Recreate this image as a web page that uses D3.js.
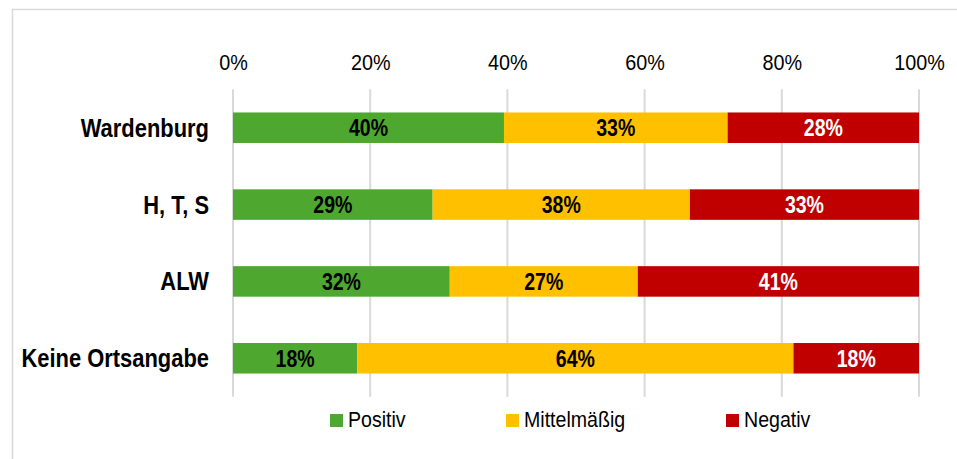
<!DOCTYPE html>
<html>
<head>
<meta charset="utf-8">
<script src="https://cdn.jsdelivr.net/npm/d3@7"></script>
<style>
  html, body { margin: 0; padding: 0; background: #fff; }
  svg { display: block; }
  .narrow { font-family: "Liberation Sans", Arial, sans-serif; }
</style>
</head>
<body>
<script>
const categories = ["Wardenburg", "H, T, S", "ALW", "Keine Ortsangabe"];
const seriesNames = ["Positiv", "Mittelmäßig", "Negativ"];
const positiv = [39.5, 29.1, 31.6, 18.1];
const mittelmaessig = [32.6, 37.5, 27.4, 63.6];
const negativ = [27.9, 33.4, 41.0, 18.3];
const tickValues = [0, 20, 40, 60, 80, 100];
const colors = ["#4EA72E", "#FFC000", "#C00000"];
const labelColors = ["#000", "#000", "#fff"];

const W = 957, H = 459;
const svg = d3.select("body").append("svg").attr("width", W).attr("height", H);

// outer chart frame
svg.append("rect")
  .attr("x", 12.5).attr("y", 9.5)
  .attr("width", W).attr("height", H)
  .attr("fill", "none").attr("stroke", "#d9d9d9").attr("stroke-width", 1.5);

const x = d3.scaleLinear().domain([0, 100]).range([233, 919]);
const y = d3.scaleBand().domain(categories).range([89.3, 396.7])
  .paddingInner(0.603).paddingOuter(0.3015);

// gridlines
svg.append("g").selectAll("line").data(tickValues).join("line")
  .attr("x1", d => x(d)).attr("x2", d => x(d))
  .attr("y1", y.range()[0]).attr("y2", y.range()[1])
  .attr("stroke", "#d9d9d9").attr("stroke-width", 2);

// top tick labels
const xAxis = d3.axisTop(x).tickValues(tickValues).tickFormat(d => d + "%").tickSize(0).tickPadding(0);
const gx = svg.append("g").attr("transform", "translate(0,70)").call(xAxis);
gx.select(".domain").remove();
gx.selectAll("text")
  .attr("class", "narrow")
  .attr("font-size", 22).attr("fill", "#000")
  .attr("y", 0).attr("dy", 0)
  .attr("transform", "scale(0.9,1)");

// category labels
const yAxis = d3.axisLeft(y).tickSize(0).tickPadding(0);
const gy = svg.append("g").attr("transform", "translate(209,0)").call(yAxis);
gy.select(".domain").remove();
gy.selectAll("text")
  .attr("class", "narrow")
  .attr("x", 0)
  .attr("font-size", 25.5).attr("font-weight", "bold").attr("fill", "#000")
  .attr("dy", "0.35em")
  .attr("transform", "scale(0.86,1)");

// stacked data
const table = categories.map((c, i) => ({
  cat: c, "Positiv": positiv[i], "Mittelmäßig": mittelmaessig[i], "Negativ": negativ[i]
}));
const stacked = d3.stack().keys(seriesNames)(table);

const layers = svg.append("g").selectAll("g").data(stacked).join("g")
  .attr("fill", (d, i) => colors[i]);

layers.selectAll("rect").data(d => d).join("rect")
  .attr("x", d => x(d[0]))
  .attr("y", d => y(d.data.cat))
  .attr("width", d => x(d[1]) - x(d[0]))
  .attr("height", y.bandwidth());

stacked.forEach((layer, si) => {
  svg.append("g").selectAll("text").data(layer).join("text")
    .attr("class", "narrow")
    .attr("transform", d => `translate(${(x(d[0]) + x(d[1])) / 2},${y(d.data.cat) + y.bandwidth() / 2}) scale(0.83,1)`)
    .attr("dy", "0.36em")
    .attr("text-anchor", "middle")
    .attr("font-size", 23.5).attr("font-weight", "bold")
    .attr("fill", labelColors[si])
    .text(d => Math.round(d.data[layer.key]) + "%");
});

// legend
const legendX = [330, 506, 726];
const lg = svg.append("g").selectAll("g").data(seriesNames).join("g")
  .attr("transform", (d, i) => `translate(${legendX[i]},414)`);
lg.append("rect").attr("width", 13).attr("height", 13).attr("fill", (d, i) => colors[i]);
lg.append("text").attr("class", "narrow")
  .attr("transform", "translate(18,13) scale(0.89,1)")
  .attr("font-size", 22).attr("fill", "#000")
  .text(d => d);
</script>
</body>
</html>
